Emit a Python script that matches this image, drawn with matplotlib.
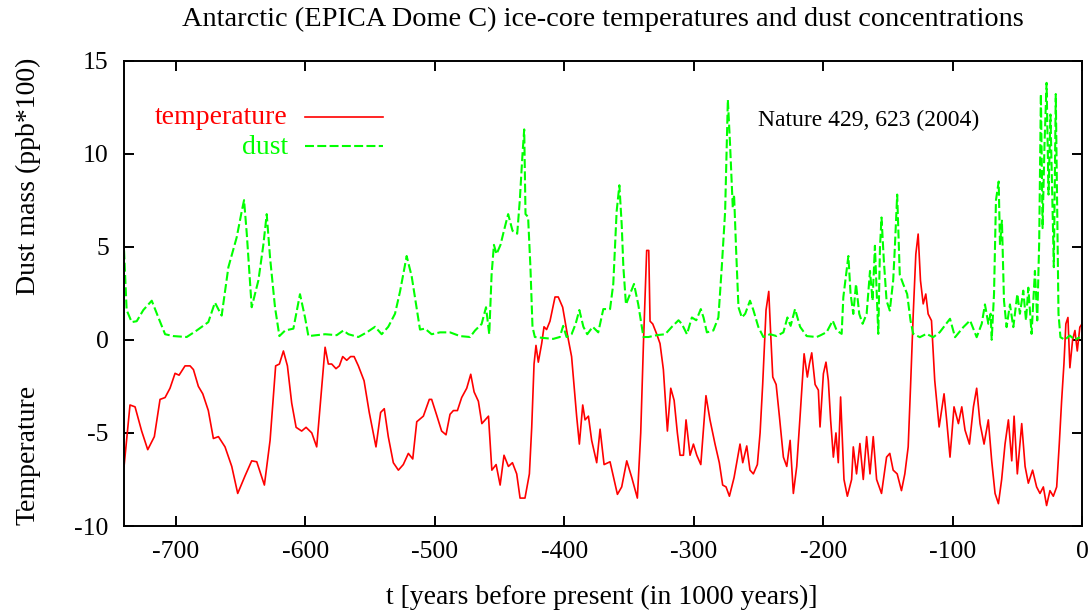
import matplotlib
matplotlib.use("Agg")
import matplotlib.pyplot as plt

# EPICA Dome C data (t in 1000 years before present)
temp_t = [-740, -735.4, -731.5, -726.4, -721.7, -716.6, -712.2, -708.3, -704.5, -700.6,
          -697.5, -692.9, -689, -686.4, -682.6, -679.2, -674.9, -671, -667.1, -662,
          -656.8, -652.2, -646.5, -641.4, -637.5, -631.6, -627.2, -622.9, -620, -616.9,
          -613.8, -610.5, -607.1, -602.8, -599.4, -595, -591.2, -584.7, -582.2, -579.6,
          -576.3, -573.7, -571.1, -568.0, -565, -562.3, -559, -554.6, -550.6, -545.4,
          -541.8, -539, -535.9, -532, -528.1, -524.3, -520.4, -517, -513.9, -508.8,
          -504.2, -502.4, -498.5, -494.7, -491.3, -488.2, -485.6, -482.5, -479.2, -475.3,
          -472.2, -469.6, -466.3, -463.6, -458.5, -455.9, -452.6, -449.5, -446.5, -443.1,
          -440.0, -436.7, -434.1, -430.3, -426.9, -425.1, -423.3, -421.8, -420, -417.4,
          -415.6, -413.6, -411, -407.1, -404.6, -401.2, -397.6, -394.3, -390.4, -388.3,
          -385.7, -383.9, -381.3, -378.8, -374.9, -372.3, -369.2, -364.6, -358.9, -355.6,
          -351.7, -347.8, -343.5, -340.9, -338.8, -336.3, -334.7, -333.7, -331.6, -328.5,
          -326, -323.4, -320.3, -317.7, -315.1, -312.6, -310.5, -307.9, -305.9, -302.8,
          -300.2, -297.6, -294.5, -290.5, -287.4, -283.5, -280.2, -277.6, -275.0, -272.4,
          -268.8, -264.2, -262.1, -259, -256.5, -253.9, -250.8, -248.7, -246.7, -244.1,
          -242, -240.5, -238.9, -236.3, -233.8, -230.7, -228.1, -225.5, -223, -220.4,
          -217.8, -214.7, -212.2, -210.6, -208.8, -206.2, -203.7, -202.4, -199.8, -197.8,
          -196.0, -194.2, -192.1, -190.1, -188.3, -186.5, -183.9, -181.3, -178.0, -176.7,
          -174.2, -171.6, -169.0, -166.4, -163.8, -161.3, -158.7, -154.9, -151.0, -148.5,
          -145.9, -142.8, -139.5, -136.9, -134.3, -132.5, -130.4, -128.4, -126.6, -124.8,
          -122.7, -120.7, -118.9, -116.3, -113.8, -110.4, -106.6, -104.6, -102, -98.9,
          -95.5, -92.9, -90.4, -87.0, -83.9, -81.4, -78.8, -75.7, -72.4, -69.8,
          -67.2, -64.6, -62.1, -59.5, -56.9, -54.3, -52.5, -50.0, -46.6, -44.0,
          -41.5, -38.2, -35.1, -32.5, -29.9, -27.4, -24.8, -22.2, -19.6, -17.6,
          -15.8, -14.0, -12.5, -10.9, -9.4, -7.3, -5.5, -3.7, -1.7, 0]
temp_v = [-6.8, -3.5, -3.6, -4.9, -5.9, -5.2, -3.2, -3.1, -2.6, -1.8,
          -1.9, -1.4, -1.4, -1.6, -2.5, -2.9, -3.8, -5.3, -5.2, -5.75,
          -6.8, -8.25, -7.3, -6.5, -6.55, -7.8, -5.4, -1.4, -1.3, -0.6,
          -1.4, -3.4, -4.7, -4.9, -4.7, -5.0, -5.75, -0.4, -1.3, -1.3,
          -1.55, -1.4, -0.9, -1.1, -0.9, -0.9, -1.4, -2.2, -3.9, -5.75,
          -3.9, -3.7, -5.2, -6.6, -7.0, -6.7, -6.1, -6.4, -4.4, -4.1,
          -3.2, -3.2, -4.05, -4.9, -5.1, -4.0, -3.8, -3.8, -3.1, -2.6,
          -1.85, -2.8, -3.3, -4.5, -4.1, -7.0, -6.7, -7.8, -6.2, -6.8,
          -6.6, -7.2, -8.5, -8.5, -7.2, -4.7, -1.3, -0.3, -1.2, -0.2,
          0.7, 0.55, 1.0, 2.3, 2.3, 1.75, 0.3, -0.9, -4.1, -5.6,
          -3.5, -4.3, -4.1, -5.4, -6.6, -4.8, -6.7, -6.55, -8.3, -7.9,
          -6.5, -7.4, -8.5, -5.0, -0.2, 4.8, 4.8, 1.0, 0.85, 0.3,
          -0.2, -1.6, -4.9, -2.6, -3.25, -5.0, -6.2, -6.2, -4.3, -6.2,
          -5.6, -6.2, -6.7, -3.0, -4.3, -5.6, -6.6, -7.8, -7.9, -8.4,
          -7.4, -5.6, -6.6, -5.7, -7.0, -7.2, -6.7, -5.0, -2.4, 1.6,
          2.6, 0.3, -2.0, -2.4, -4.1, -6.3, -6.8, -5.4, -8.25, -6.8,
          -4.1, -0.75, -2.0, -1.3, -0.7, -2.4, -2.7, -4.68, -1.82, -1.2,
          -2.18, -4.32, -6.3, -5.0, -6.6, -3.07, -7.5, -8.4, -7.5, -5.75,
          -7.2, -5.57, -7.5, -5.2, -7.2, -5.2, -7.5, -8.25, -6.3, -6.1,
          -7.0, -7.2, -8.1, -7.2, -5.75, -2.54, 1.39, 4.6, 5.68, 3.18,
          1.93, 2.46, 1.39, 1.03, -2.18, -4.68, -2.9, -4.3, -6.3, -3.6,
          -4.5, -3.6, -4.85, -5.6, -3.6, -2.6, -4.5, -5.6, -4.3, -6.5,
          -8.25, -8.8, -7.5, -5.6, -4.3, -6.5, -4.1, -7.2, -4.5, -6.8,
          -7.7, -7.0, -7.9, -8.25, -7.9, -8.9, -8.1, -8.4, -7.9, -5.6,
          -3.3, -1.3, 0.86, 1.2, -1.5, 0, 0.5, -0.6, 0.68, 0.86]

dust_t = [-740, -738, -734.1, -730.2, -725.1, -718.6, -713.5, -708.3, -701.9, -691.6,
          -683.9, -674.9, -669.8, -664.6, -659.4, -653, -649.1, -647.3, -645.2, -641.4,
          -636.2, -632.4, -629.8, -627.2, -623.4, -620, -615.6, -609.2, -604.1, -600.2,
          -597.6, -591.2, -584.7, -575.7, -570.6, -566.7, -559, -552.5, -546.1, -541,
          -535.9, -530.7, -526.8, -521.7, -517.8, -511.4, -507.5, -502.4, -495.9, -488.2,
          -480.5, -472.7, -468.9, -463.8, -460.4, -457.9, -456.1, -454.3, -452.3, -449.2,
          -446.6, -443.3, -439.9, -436.3, -434.3, -432.2, -430.9, -429.9, -427.9, -426.1,
          -424.5, -422.7, -416.2, -408.5, -403.4, -400.8, -398.2, -394.3, -391.2, -388.3,
          -385.2, -382.2, -378.0, -373.7, -369.8, -364.6, -362.1, -359.5, -357.4, -355.6,
          -354.3, -352.3, -349.2, -346.1, -342.8, -338.8, -334.9, -328.5, -322.0, -316.8,
          -311.7, -309.1, -305.2, -301.4, -298.0, -294.5, -292.4, -289.8, -284.8, -280.9,
          -278.3, -275.7, -273.6, -271.9, -269.8, -268.8, -267.2, -265.4, -262.8, -260.2,
          -256.5, -253.9, -250.1, -246.2, -241.0, -235.9, -230.7, -227.6, -225.1, -221.7,
          -217.8, -212.7, -205.0, -202.4, -197.3, -192.6, -189.5, -185.7, -184.4, -180.5,
          -178.8, -176.7, -174.6, -172.1, -169.5, -166.4, -163.8, -161.8, -160.0, -157.4,
          -156.1, -154.9, -153.1, -151.0, -148.5, -145.9, -144.6, -142.8, -140.8, -138.2,
          -135.1, -132.5, -130.4, -125.3, -120.2, -115.0, -109.9, -102, -98.1, -91.7,
          -86.5, -81.4, -77.5, -75.0, -72.4, -70.6, -69.8, -68.0, -66.5, -64.4,
          -63.4, -61.9, -60.3, -58.3, -55.7, -53.1, -50, -48, -45.4, -43.3,
          -41.5, -39.0, -36.4, -34.6, -33.1, -31.8, -30.5, -29.0, -27.4, -25.9,
          -24.4, -22.8, -21.8, -20.3, -19.2, -18.2, -16.7, -13.3, -9.5, -5.6,
          -1.7]
dust_v = [4.8, 1.6, 0.95, 1.0, 1.6, 2.1, 1.2, 0.3, 0.2, 0.15,
          0.5, 0.95, 2.0, 1.3, 3.9, 5.5, 6.9, 7.5, 5.7, 1.75,
          3.2, 5.1, 6.75, 4.4, 1.75, 0.2, 0.5, 0.6, 2.45, 1.2,
          0.2, 0.25, 0.3, 0.25, 0.5, 0.3, 0.15, 0.4, 0.7, 0.3,
          0.7, 1.4, 2.6, 4.5, 3.4, 0.55, 0.6, 0.3, 0.4, 0.4,
          0.2, 0.15, 0.5, 0.85, 1.75, 0.3, 3.5, 5.1, 4.6, 5.1,
          5.85, 6.75, 5.85, 5.7, 7.5, 10.0, 11.3, 6.75, 6.6, 3.9,
          0.7, 0.15, 0.1, 0.05, 0.15, 0.75, 0.15, 0.3, 0.85, 1.6,
          0.7, 0.3, 0.7, 0.4, 1.65, 1.65, 3.0, 6.9, 8.3, 6.2,
          3.9, 1.9, 2.45, 3.0, 1.9, 0.15, 0.15, 0.25, 0.3, 0.7,
          1.05, 0.85, 0.3, 1.2, 1.05, 1.65, 1.2, 0.4, 0.5, 1.2,
          3.9, 6.9, 12.9, 10.5, 7.1, 7.8, 4.8, 1.75, 1.2, 1.4,
          2.1, 1.6, 0.7, 0.15, 0.3, 0.2, 0.4, 1.2, 0.75, 1.65,
          0.7, 0.2, 0.15, 0.23, 0.41, 1.03, 0.5, 0.32, 2.29, 4.5,
          2.46, 1.39, 3.0, 1.39, 0.86, 1.39, 3.7, 2.1, 5.05, 0.32,
          4.96, 6.57, 4.25, 2.1, 1.57, 3.18, 4.96, 7.8, 3.5, 3.0,
          2.46, 1.03, 0.32, 0.14, 0.32, 0.14, 0.41, 1.13, 0.14, 0.68,
          1.04, 0.14, 0.86, 1.9, 0.86, 1.4, 0, 2.46, 7.5, 8.5,
          5.1, 6.4, 2.1, 0.68, 1.9, 0.68, 2.46, 1.4, 2.64, 1.04,
          2.8, 0.32, 3.7, 1.04, 5.3, 13.2, 6.0, 10.5, 13.8, 7.8,
          12.1, 6.9, 3.9, 13.2, 6.9, 1.4, 0.14, 0, 0.23, 0,
          0.14]

x_ticks = [-700, -600, -500, -400, -300, -200, -100, 0]
y_ticks = [-10, -5, 0, 5, 10, 15]

plt.rcParams['font.family'] = ['Liberation Serif', 'DejaVu Serif']
plt.rcParams['axes.unicode_minus'] = False

fig = plt.figure(figsize=(10.91, 6.13), dpi=100)
ax = fig.add_axes([0.1137, 0.1419, 0.8781, 0.7594])

# temperature first, dust drawn on top (gnuplot order)
ax.plot(temp_t, temp_v, color='#ff0000', linewidth=1.2)
ax.plot(dust_t, dust_v, color='#00ff00', linewidth=1.5, linestyle=(0, (4.3, 1.6)))

ax.set_xlim(-740, 0)
ax.set_ylim(-10, 15)
ax.set_xticks(x_ticks)
ax.set_yticks(y_ticks)

# gnuplot style frame: ticks inside on all four sides
for s in ax.spines.values():
    s.set_linewidth(1.4)
ax.tick_params(direction='in', length=7, width=1.4, top=True, right=True,
               labelsize=18.5, pad=11)

# hand made legend, text right aligned with the sample line after it
ax.text(0.171, 0.8765, 'temperature', color='#ff0000', fontsize=20,
        ha='right', va='center', transform=ax.transAxes)
ax.plot([0.189, 0.270], [0.879, 0.879], color='#ff0000', linewidth=1.2,
        transform=ax.transAxes)
ax.text(0.171, 0.814, 'dust', color='#00ff00', fontsize=20,
        ha='right', va='center', transform=ax.transAxes)
ax.plot([0.189, 0.270], [0.817, 0.817], color='#00ff00', linewidth=1.5,
        linestyle=(0, (4.3, 1.6)), transform=ax.transAxes)

ax.text(0.662, 0.872, 'Nature 429, 623 (2004)', fontsize=17,
        ha='left', va='center', transform=ax.transAxes)

fig.text(0.5527, 0.9690, 'Antarctic (EPICA Dome C) ice-core temperatures and dust concentrations',
         fontsize=20.4, ha='center', va='center')
fig.text(0.552, 0.026, 't [years before present (in 1000 years)]',
         fontsize=20, ha='center', va='center')
fig.text(0.026, 0.713, 'Dust mass (ppb*100)', fontsize=20, rotation=90,
         ha='center', va='center')
fig.text(0.026, 0.258, 'Temperature', fontsize=20, rotation=90,
         ha='center', va='center')

fig.savefig('out.png', dpi=100)
